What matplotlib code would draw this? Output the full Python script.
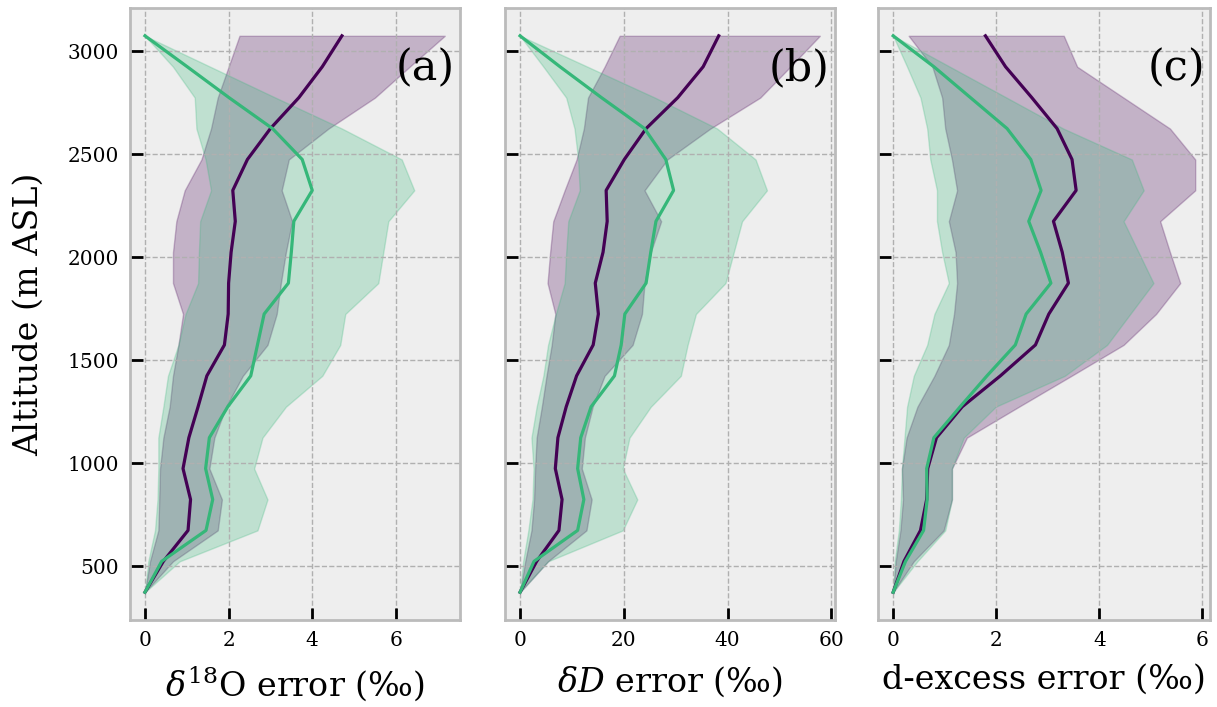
import numpy as np
import matplotlib
matplotlib.use('Agg')
import matplotlib.pyplot as plt

# altitude levels (m ASL)
alt = [375, 525, 675, 825, 975, 1125, 1275, 1425, 1575, 1725,
       1875, 2025, 2175, 2325, 2475, 2625, 2775, 2925, 3075]

# (a) d18O error
d18o_p_mid = [0, 0.44, 1.03, 1.09, 0.91, 1.05, 1.27, 1.48, 1.9, 1.99,
              2.0, 2.06, 2.16, 2.1, 2.45, 3.0, 3.68, 4.24, 4.71]
d18o_p_lo = [0, 0.12, 0.32, 0.34, 0.36, 0.44, 0.59, 0.67, 0.8, 0.91,
             0.67, 0.67, 0.75, 0.95, 1.35, 1.58, 1.74, 2.0, 2.26]
d18o_p_hi = [0, 0.67, 1.74, 1.84, 1.54, 1.66, 1.94, 2.34, 2.93, 3.15,
             3.25, 3.37, 3.52, 3.27, 3.44, 4.39, 5.5, 6.33, 7.17]
d18o_g_mid = [0, 0.40, 1.46, 1.62, 1.45, 1.54, 1.98, 2.53, 2.69, 2.85,
              3.43, 3.5, 3.56, 4.0, 3.76, 3.05, 2.01, 1.01, 0]
d18o_g_lo = [0, 0.08, 0.24, 0.3, 0.32, 0.32, 0.44, 0.55, 0.8, 0.97,
             1.27, 1.29, 1.32, 1.58, 1.45, 1.23, 1.19, 0.67, 0]
d18o_g_hi = [0, 0.83, 2.69, 2.93, 2.61, 2.81, 3.37, 4.24, 4.67, 4.79,
             5.58, 5.7, 5.82, 6.44, 6.14, 4.71, 3.12, 1.56, 0]

# (b) dD error
dd_p_mid = [0, 3.2, 7.5, 8.1, 6.8, 7.3, 8.9, 10.9, 14.1, 15.1,
            14.5, 16.0, 16.8, 16.6, 20.1, 24.3, 30.4, 35.3, 38.3]
dd_p_lo = [0, 1.0, 2.2, 2.7, 2.9, 3.2, 4.2, 5.1, 6.1, 6.8,
           5.3, 5.8, 6.4, 8.6, 10.9, 12.3, 13.1, 16.3, 19.2]
dd_p_hi = [0, 5.4, 12.8, 13.8, 11.9, 12.5, 14.0, 16.3, 21.7, 23.5,
           24.0, 25.2, 27.2, 24.0, 28.4, 36.7, 46.3, 52.1, 57.8]
dd_g_mid = [0, 2.7, 11.1, 12.3, 11.1, 11.7, 13.7, 18.2, 19.5, 20.2,
            24.3, 25.2, 26.2, 29.6, 28.1, 24.0, 15.7, 7.7, 0]
dd_g_lo = [0, 0.6, 1.6, 2.4, 2.6, 2.2, 3.2, 4.5, 5.4, 6.9,
           8.6, 8.9, 9.3, 11.5, 11.2, 10.5, 8.9, 4.5, 0]
dd_g_hi = [0, 5.4, 19.8, 22.6, 19.8, 21.1, 25.2, 31.0, 32.3, 33.9,
           39.6, 41.2, 42.8, 47.6, 45.4, 38.0, 26.0, 13.0, 0]

# (c) d-excess error
dx_p_mid = [0, 0.21, 0.53, 0.65, 0.67, 0.84, 1.34, 2.08, 2.76, 3.02,
            3.40, 3.28, 3.11, 3.55, 3.47, 3.18, 2.69, 2.18, 1.79]
dx_p_lo = [0, 0.05, 0.14, 0.19, 0.17, 0.26, 0.47, 0.8, 1.08, 1.18,
           1.24, 1.21, 1.08, 1.24, 1.14, 1.01, 0.95, 0.76, 0.3]
dx_p_hi = [0, 0.4, 0.98, 1.14, 1.14, 1.43, 2.44, 3.46, 4.47, 5.1,
           5.57, 5.37, 5.18, 5.86, 5.86, 5.37, 4.47, 3.57, 3.31]
dx_g_mid = [0, 0.24, 0.59, 0.66, 0.65, 0.79, 1.3, 1.82, 2.37, 2.58,
            3.06, 2.86, 2.63, 2.87, 2.67, 2.21, 1.5, 0.79, 0]
dx_g_lo = [0, 0.03, 0.11, 0.15, 0.17, 0.22, 0.27, 0.4, 0.66, 0.8,
           1.08, 0.95, 0.85, 0.85, 0.72, 0.66, 0.53, 0.27, 0]
dx_g_hi = [0, 0.47, 1.01, 1.14, 1.14, 1.37, 1.99, 3.33, 4.15, 4.6,
           5.05, 4.76, 4.47, 4.86, 4.63, 3.3, 2.2, 1.1, 0]

panels = [
    ('(a)', r'$\delta^{18}$O error (‰)',
     (d18o_p_mid, d18o_p_lo, d18o_p_hi), (d18o_g_mid, d18o_g_lo, d18o_g_hi), [0, 2, 4, 6]),
    ('(b)', r'$\delta D$ error (‰)',
     (dd_p_mid, dd_p_lo, dd_p_hi), (dd_g_mid, dd_g_lo, dd_g_hi), [0, 20, 40, 60]),
    ('(c)', 'd-excess error (‰)',
     (dx_p_mid, dx_p_lo, dx_p_hi), (dx_g_mid, dx_g_lo, dx_g_hi), [0, 2, 4, 6]),
]

purple = '#440154'
green = '#35b779'

plt.rcParams['font.family'] = ['DejaVu Serif']
plt.rcParams['mathtext.fontset'] = 'dejavuserif'

fig = plt.figure(figsize=(12.17, 7.07), dpi=100)
lefts = [0.1068, 0.415, 0.7215]
widths = [0.271, 0.271, 0.273]

for i, (tag, xlabel, purp, gre, xt) in enumerate(panels):
    ax = fig.add_axes([lefts[i], 0.123, widths[i], 0.8657])
    ax.set_facecolor('#eeeeee')
    ax.fill_betweenx(alt, purp[1], purp[2], color=purple, alpha=0.25, lw=1)
    ax.fill_betweenx(alt, gre[1], gre[2], color=green, alpha=0.25, lw=1)
    ax.plot(purp[0], alt, color=purple, lw=2.3)
    ax.plot(gre[0], alt, color=green, lw=2.3)
    ax.grid(True, ls='--', color='#b0b0b0', lw=1)
    for s in ax.spines.values():
        s.set_color('#bbbbbb')
        s.set_linewidth(2)
    ax.set_xticks(xt)
    ax.set_yticks([500, 1000, 1500, 2000, 2500, 3000])
    ax.tick_params(direction='in', length=9, width=2, color='black', labelsize=14.5, pad=8)
    ax.set_xlabel(xlabel, fontsize=24, labelpad=10)
    if i == 0:
        ax.set_ylabel('Altitude (m ASL)', fontsize=24, labelpad=16)
    else:
        ax.set_yticklabels([])
    ax.text(0.985, 0.935, tag, transform=ax.transAxes, ha='right', va='top', fontsize=31)

fig.savefig('out.png', dpi=100)
